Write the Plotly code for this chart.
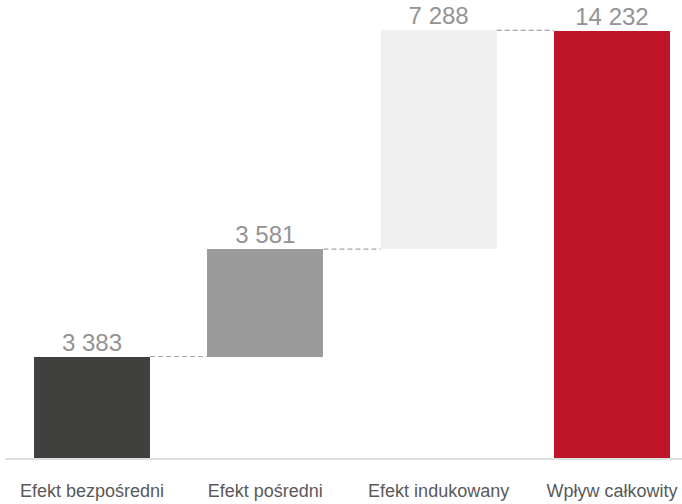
import plotly.graph_objects as go

categories = ["Efekt bezpośredni", "Efekt pośredni", "Efekt indukowany", "Wpływ całkowity"]
values = [3383, 3581, 7288]
total = 14232
value_labels = ["3 383", "3 581", "7 288", "14 232"]
colors = ["#40403e", "#9b9b9b", "#f0f0f0", "#be1529"]

xs = list(range(len(categories)))
bases = []
tops = []
cum = 0
for v in values:
    bases.append(cum)
    cum += v
    tops.append(cum)
bases.append(0)
tops.append(total)
heights = [t - b for t, b in zip(tops, bases)]

bar_w = 0.67
fig = go.Figure()
fig.add_trace(go.Bar(x=xs, y=heights, base=bases, width=bar_w,
                     marker=dict(color=colors, line=dict(width=0)),
                     hoverinfo="skip", showlegend=False))

# connectors
for i in range(len(xs) - 1):
    fig.add_trace(go.Scatter(x=[xs[i] + bar_w / 2, xs[i + 1] - bar_w / 2],
                             y=[tops[i], tops[i]], mode="lines",
                             line=dict(color="#a6a6a6", width=1.2, dash="5px,3px"),
                             hoverinfo="skip", showlegend=False))

fig.add_trace(go.Scatter(x=xs, y=tops, mode="text", text=value_labels,
                         textposition="top center",
                         textfont=dict(family="Liberation Sans, Arial", size=24, color="#939393"),
                         hoverinfo="skip", showlegend=False, cliponaxis=False))

fig.update_layout(
    width=682, height=504,
    margin=dict(l=5, r=0, t=0, b=46),
    paper_bgcolor="white", plot_bgcolor="white",
    bargap=0,
    xaxis=dict(range=[-0.502, 3.404], tickvals=xs, ticktext=categories,
               showgrid=False, zeroline=False, showline=True,
               linecolor="#dedede", linewidth=2,
               ticks="outside", ticklen=15, tickcolor="rgba(0,0,0,0)",
               tickfont=dict(family="Liberation Sans, Arial", size=18, color="#595959")),
    yaxis=dict(range=[0, 15265], visible=False, showgrid=False, zeroline=False),
)

fig.write_html("out.html", config={"displayModeBar": False},
               post_script="document.body.style.margin='0';document.body.style.padding='0';document.body.style.overflow='hidden';")
